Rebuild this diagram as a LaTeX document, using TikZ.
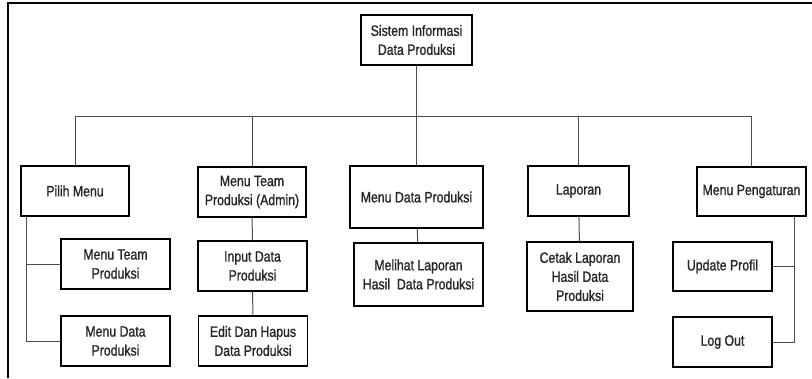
\documentclass[tikz,border=0pt]{standalone}
\usepackage{fontspec}
\setmainfont{Liberation Sans}[FakeStretch=0.82,FakeBold=1.2]

\begin{document}
\begin{tikzpicture}[x=1pt,y=-1pt,
  box/.style={draw=black,line width=1.2pt,inner sep=2pt,align=center,
    text=black!85,font=\fontsize{15}{19}\selectfont},
  link/.style={draw=black!70,line width=1pt}]
\useasboundingbox (0,0) rectangle (812,378);
\draw[line width=1.3pt] (8,378) -- (8,3) -- (812,3);

\foreach \x/\y/\w/\h/\n/\t in {416.5/40/111/50/root/{Sistem Informasi\\Data Produksi},
  75/191/108/50/pilih/{Pilih Menu}, 252/192/108/50/admin/{Menu Team\\Produksi (Admin)},
  416.5/197/133/62/data/{Menu Data Produksi}, 578.5/191/101/50/lap/{Laporan},
  751.5/191.5/109/49/atur/{Menu Pengaturan},
  115.5/264/109/50/team/{Menu Team\\Produksi}, 115.5/341/109/50/mdata/{Menu Data\\Produksi},
  252.5/266/109/50/input/{Input Data\\Produksi}, 253/341/109/50/edit/{Edit Dan Hapus\\Data Produksi},
  418.5/274.5/129/63/lihat/{Melihat Laporan\\Hasil\ \ Data Produksi},
  580/276.5/106/69/cetak/{Cetak Laporan\\Hasil Data\\Produksi},
  722.5/266.5/99/49/update/{Update Profil}, 722.5/342/99/50/logout/{Log Out}}
  \node[box,minimum width=\w,minimum height=\h] (\n) at (\x,\y) {\t};

\coordinate (bus) at (416.5,116);
\draw[link] (root) -- (data);
\foreach \t in {pilih, admin, lap, atur}
  \draw[link] (bus) -| (\t);
\draw[link] (admin) -- (input);
\draw[link] (input) -- (edit);
\draw[link] (data) -- (lihat);
\draw[link] (lap) -- (cetak);
\foreach \t in {team, mdata}
  \draw[link] ([xshift=6pt]pilih.south west) |- (\t);
\foreach \t in {update, logout}
  \draw[link] ([xshift=-12pt]atur.south east) |- (\t);
\end{tikzpicture}
\end{document}
